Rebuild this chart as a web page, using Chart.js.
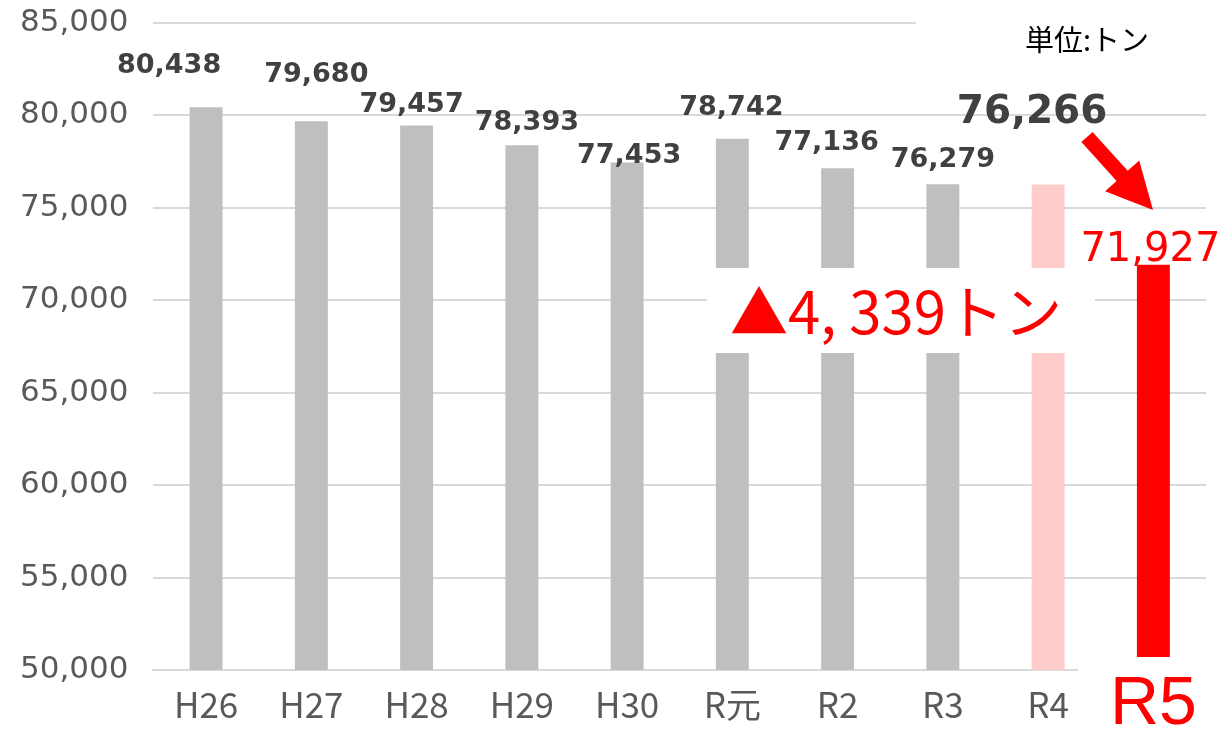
<!DOCTYPE html>
<html>
<head>
<meta charset="utf-8">
<script src="https://cdn.jsdelivr.net/npm/chart.js@4.4.0/dist/chart.umd.min.js"></script>
<style>
  html, body { margin: 0; padding: 0; background: #fff; }
  #wrap { width: 1224px; height: 729px; }
</style>
</head>
<body>
<div id="wrap"><canvas id="myChart" width="1224" height="729"></canvas></div>
<script>
var years = ["H26", "H27", "H28", "H29", "H30", "R元", "R2", "R3", "R4", "R5"];
var tons = [80438, 79680, 79457, 78393, 77453, 78742, 77136, 76279, 76266, 71927];
var barColors = ["#bfbfbf", "#bfbfbf", "#bfbfbf", "#bfbfbf", "#bfbfbf", "#bfbfbf", "#bfbfbf", "#bfbfbf", "#ffcccc", "#ff0000"];
var yTicks = [50000, 55000, 60000, 65000, 70000, 75000, 80000, 85000];
var unitText = "単位:トン";
var diffText = "▲4, 339トン";

// label nudges (the labels were hand-placed in the original)
var labelDx = [-37, 5, -5, 5, 2, -1, -11, 0, -16, -3];
var labelGap = [34, 39, 13, 15, 0, 24, 18, 17, 61, 4];

var extras = {
  id: "extras",
  afterDatasetsDraw: function(chart) {
    var ctx = chart.ctx;
    var meta = chart.getDatasetMeta(0);
    var ca = chart.chartArea;
    ctx.save();
    // blank out pieces like the pasted-over original
    ctx.fillStyle = "#fff";
    ctx.fillRect(916, ca.top - 5, 1224 - 916, 10);
    ctx.fillRect(1078, 657, 1224 - 1078, 18);
    ctx.fillRect(707, 268, 1095 - 707, 85);

    // value labels
    ctx.textAlign = "center";
    ctx.textBaseline = "alphabetic";
    meta.data.forEach(function(bar, i) {
      var txt = tons[i].toLocaleString("en-US");
      if (i === 8) {
        ctx.font = "bold 39px 'DejaVu Sans'";
        ctx.fillStyle = "#404040";
      } else if (i === 9) {
        ctx.font = "40px 'DejaVu Sans'";
        ctx.fillStyle = "#ff0000";
      } else {
        ctx.font = "bold 27px 'DejaVu Sans'";
        ctx.fillStyle = "#404040";
      }
      ctx.fillText(txt, bar.x + labelDx[i], bar.y - labelGap[i]);
    });

    // R5 category label
    var last = meta.data[9];
    ctx.font = "68px 'Liberation Sans'";
    ctx.fillStyle = "#ff0000";
    ctx.fillText(years[9], last.x, 724);

    // difference note
    ctx.font = "58px 'Noto Sans CJK JP'";
    ctx.textBaseline = "middle";
    ctx.fillText(diffText, 896, 312);

    // unit
    ctx.font = "29px 'Noto Sans CJK JP'";
    ctx.fillStyle = "#000";
    ctx.fillText(unitText, 1087, 40);

    // arrow R4 -> R5
    var sx = 1087, sy = 137, tx = 1153, ty = 210;
    var ang = Math.atan2(ty - sy, tx - sx);
    var len = Math.hypot(tx - sx, ty - sy);
    ctx.translate(sx, sy);
    ctx.rotate(ang);
    ctx.beginPath();
    ctx.moveTo(0, -7.5);
    ctx.lineTo(len - 46, -7.5);
    ctx.lineTo(len - 46, -23);
    ctx.lineTo(len, 0);
    ctx.lineTo(len - 46, 23);
    ctx.lineTo(len - 46, 7.5);
    ctx.lineTo(0, 7.5);
    ctx.closePath();
    ctx.fillStyle = "#ff0000";
    ctx.fill();
    ctx.restore();
  }
};

new Chart("myChart", {
  type: "bar",
  data: {
    labels: years,
    datasets: [{
      data: tons,
      backgroundColor: barColors,
      barPercentage: 0.313,
      categoryPercentage: 1.0
    }]
  },
  options: {
    responsive: false,
    animation: false,
    layout: { padding: { left: -5, right: 18, top: 0, bottom: -11 } },
    plugins: {
      legend: { display: false },
      tooltip: { enabled: false }
    },
    scales: {
      x: {
        grid: { display: false, drawTicks: false },
        border: { display: true, color: "#d9d9d9", width: 2 },
        ticks: {
          padding: 14,
          color: "#595959",
          font: { family: "'Noto Sans CJK JP'", size: 35 },
          maxRotation: 0,
          autoSkip: false,
          callback: function(v, i) { return i === 9 ? "" : years[i]; }
        }
      },
      y: {
        min: yTicks[0],
        max: yTicks[yTicks.length - 1],
        afterBuildTicks: function(axis) {
          axis.ticks = yTicks.map(function(v) { return { value: v }; });
        },
        afterFit: function(axis) { axis.paddingTop = 23; },
        grid: { color: "#d9d9d9", lineWidth: 2, drawTicks: false },
        border: { display: false },
        ticks: {
          padding: 25,
          color: "#595959",
          font: { family: "'DejaVu Sans'", size: 31, lineHeight: 1 },
          callback: function(v) { return v.toLocaleString("en-US"); }
        }
      }
    }
  },
  plugins: [extras]
});
</script>
</body>
</html>
